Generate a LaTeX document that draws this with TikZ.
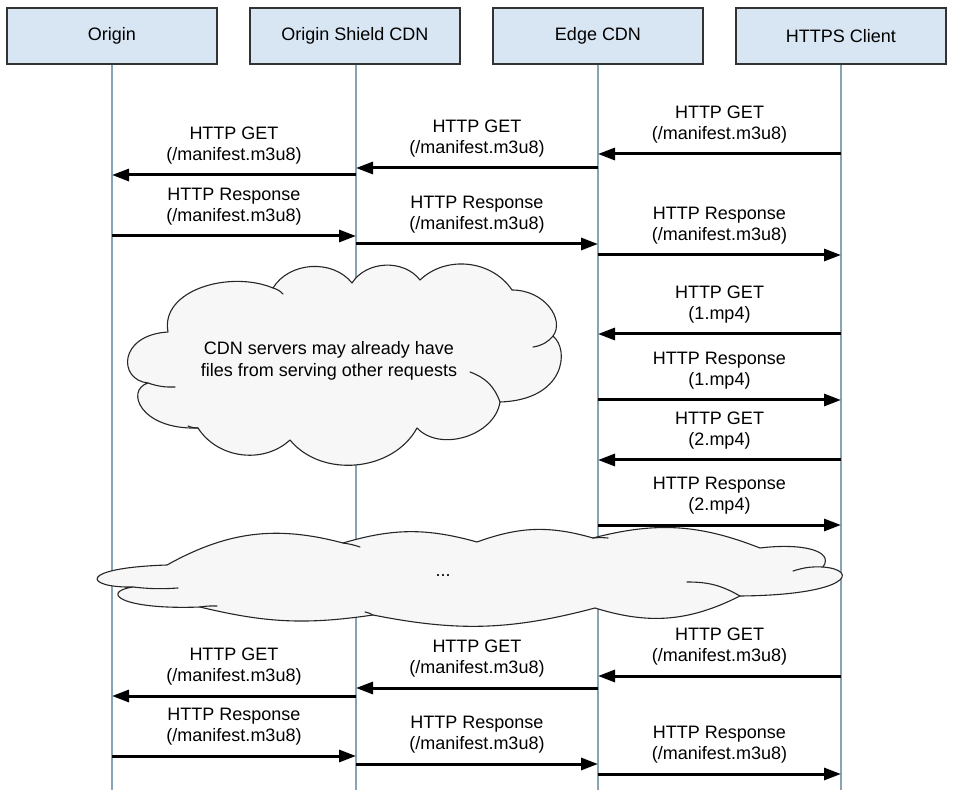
\documentclass[tikz,border=0pt]{standalone}
\usepackage{fontspec}
\setmainfont{Liberation Sans}
\usetikzlibrary{arrows.meta,calc}
\definecolor{headfill}{HTML}{D8E6F4}
\definecolor{lifeclr}{HTML}{88A3B3}
\definecolor{cloudfill}{HTML}{F7F7F7}
\tikzset{
  head/.style={draw=black!80,fill=headfill,line width=1.3pt,minimum width=210pt,minimum height=56pt,inner sep=0pt,font=\fontsize{18}{21}\selectfont},
  life/.style={draw=lifeclr,line width=1.4pt},
  msg/.style={line width=3pt,-{Triangle[length=17pt,width=12pt]}},
  lbl/.style={align=center,inner sep=0pt,font=\fontsize{18}{21}\selectfont},
  cloudy/.style={draw=black!85,fill=cloudfill,line width=1.1pt,line join=round},
  hook/.style={draw=black!85,line width=1.1pt,line cap=round},
  cloudtext/.style={align=center,inner sep=0pt,font=\fontsize{18}{22}\selectfont}
}
\newcommand\msgarrow[6]{%
  \coordinate (#6s) at (#1,#3);
  \coordinate (#6e) at (#2,#3);
  \draw[msg] (#6s) -- (#6e);
  \node[lbl] (#6l) at ($(#6s)!0.5!(#6e)+(0,-29)$) {#4\\#5};
}
\begin{document}
\begin{tikzpicture}[x=1pt,y=-1pt]
\useasboundingbox (0,0) rectangle (954,802);
\node[head] (ori) at (112,36) {Origin};
\node[head] (shd) at (355,36) {Origin Shield CDN};
\node[head] (edg) at (598,36) {Edge CDN};
\node[head] (cli) at (841,36) {HTTPS Client};
\coordinate (orib) at (112,790);
\coordinate (shdb) at (356,790);
\coordinate (edgb) at (598,790);
\coordinate (clib) at (841,790);
\draw[life] (ori.south -| orib) -- (orib);
\draw[life] (shd.south -| shdb) -- (shdb);
\draw[life] (edg.south -| edgb) -- (edgb);
\draw[life] (cli.south -| clib) -- (clib);
% first manifest request
\msgarrow{841}{598}{154}{HTTP GET}{(/manifest.m3u8)}{a}
\msgarrow{598}{356}{168}{HTTP GET}{(/manifest.m3u8)}{b}
\msgarrow{356}{112}{175}{HTTP GET}{(/manifest.m3u8)}{c}
\msgarrow{112}{356}{236}{HTTP Response}{(/manifest.m3u8)}{d}
\msgarrow{356}{598}{244}{HTTP Response}{(/manifest.m3u8)}{e}
\msgarrow{598}{841}{255}{HTTP Response}{(/manifest.m3u8)}{f}
% segments
\msgarrow{841}{598}{334}{HTTP GET}{(1.mp4)}{g}
\msgarrow{598}{841}{400}{HTTP Response}{(1.mp4)}{h}
\msgarrow{841}{598}{460}{HTTP GET}{(2.mp4)}{i}
\msgarrow{598}{841}{525}{HTTP Response}{(2.mp4)}{j}
% cloud 1
\path[cloudy] (168,332) .. controls (160,290) and (230,270) .. (273,288)
  to[bend left=55] (352,283)
  to[bend left=55] (420,280) to[bend left=50] (512,290)
  .. controls (545,290) and (565,320) .. (553,336)
  .. controls (570,350) and (565,400) .. (500,402)
  to[bend left=64] (417,428) to[bend left=56] (290,440)
  to[bend left=50] (198,428)
  .. controls (140,430) and (125,390) .. (148,383)
  .. controls (118,380) and (118,335) .. (168,332) -- cycle;
\draw[hook] (273,288) to[bend left=15] (283,294);
\draw[hook] (553,336) to[bend left=20] (533,347);
\draw[hook] (500,402) to[bend right=25] (470,372);
\draw[hook] (148,383) to[bend right=10] (175,387);
\draw[hook] (198,428) to[bend left=10] (188,426);
\node[cloudtext] (cl1) at (329,361) {CDN servers may already have\\files from serving other requests};
% cloud 2
\path[cloudy] (167,565) to[bend left=22] (343,543) to[bend left=16] (477,542)
  to[bend left=18] (593,538) to[bend left=18] (760,548)
  .. controls (800,543) and (835,550) .. (823,567)
  .. controls (860,570) and (850,595) .. (740,596)
  to[bend left=22] (595,608) to[bend left=13] (373,615)
  to[bend left=11] (200,607) .. controls (120,610) and (100,592) .. (133,587)
  .. controls (85,588) and (75,568) .. (167,565) -- cycle;
\draw[hook] (343,543) to[bend left=5] (360,547);
\draw[hook] (593,538) to[bend left=5] (608,538);
\draw[hook] (823,567) to[bend right=10] (793,571);
\draw[hook] (740,596) to[bend right=15] (687,582);
\draw[hook] (133,587) to[bend right=5] (178,588);
\draw[hook] (200,607) to[bend left=5] (217,606);
\draw[hook] (373,615) to[bend right=10] (365,612);
\node[cloudtext] (cl2) at (443,576) {...};
% later manifest request
\msgarrow{841}{598}{676}{HTTP GET}{(/manifest.m3u8)}{k}
\msgarrow{598}{356}{688}{HTTP GET}{(/manifest.m3u8)}{l}
\msgarrow{356}{112}{696}{HTTP GET}{(/manifest.m3u8)}{m}
\msgarrow{112}{356}{756}{HTTP Response}{(/manifest.m3u8)}{n}
\msgarrow{356}{598}{764}{HTTP Response}{(/manifest.m3u8)}{o}
\msgarrow{598}{841}{774}{HTTP Response}{(/manifest.m3u8)}{p}
\end{tikzpicture}
\end{document}
